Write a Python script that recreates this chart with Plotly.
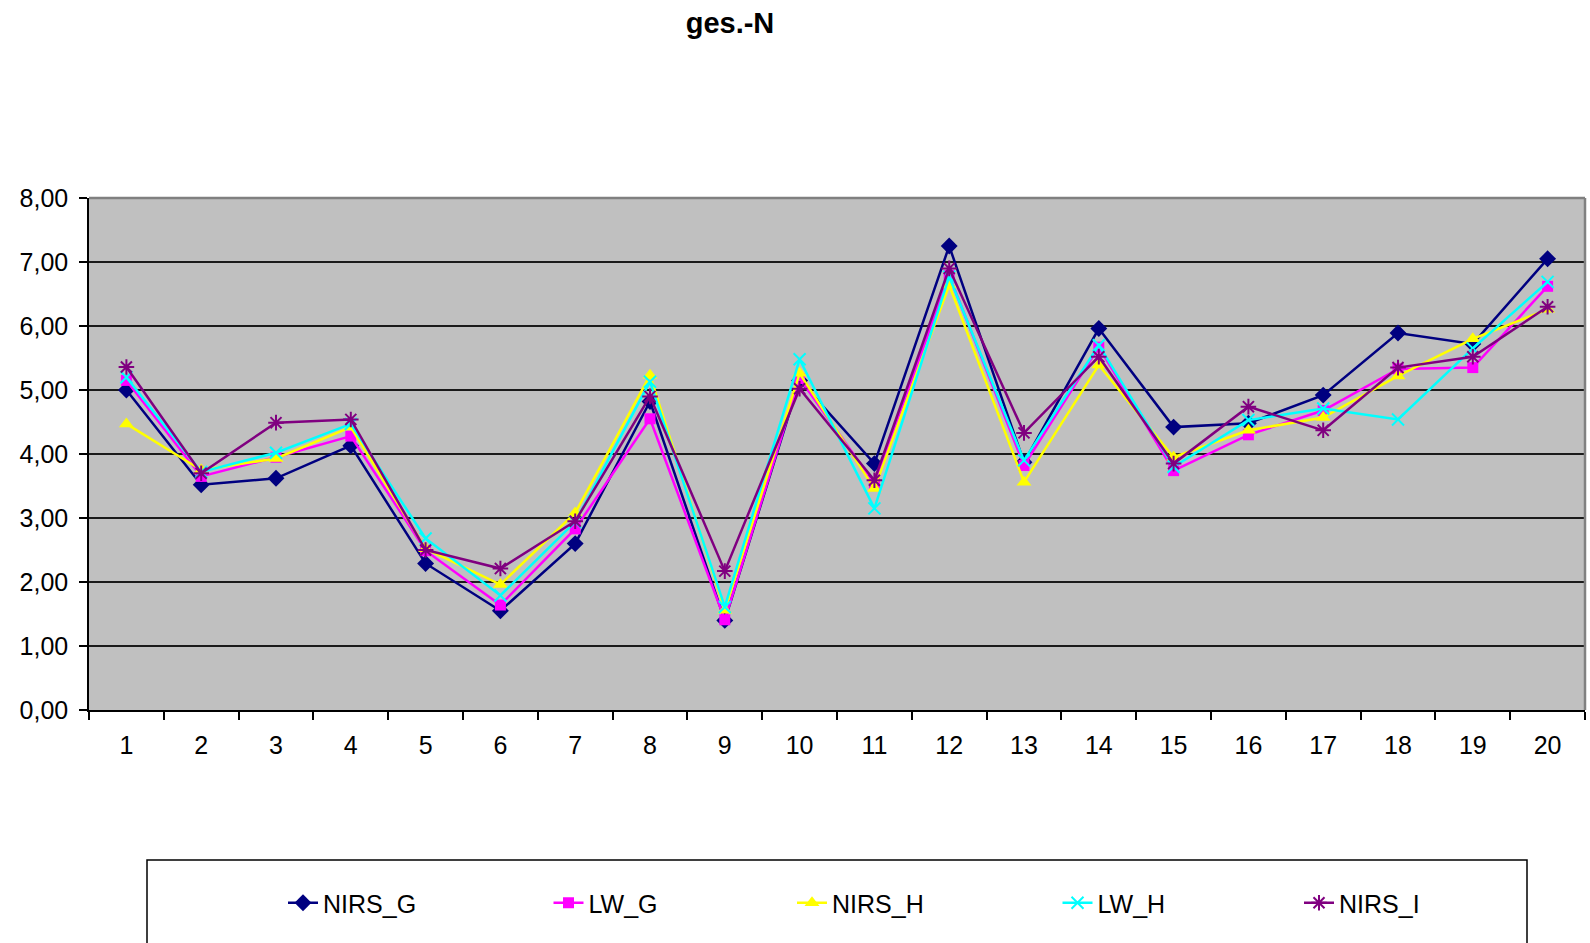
import plotly.graph_objects as go

categories = [str(i) for i in range(1, 21)]
NIRS_G = [5.00, 3.52, 3.62, 4.13, 2.29, 1.55, 2.60, 4.82, 1.40, 5.15, 3.85, 7.25, 3.87, 5.96, 4.42, 4.48, 4.92, 5.89, 5.72, 7.05]
LW_G = [5.15, 3.65, 3.95, 4.28, 2.49, 1.64, 2.83, 4.55, 1.41, 5.18, 3.54, 6.79, 3.82, 5.67, 3.74, 4.30, 4.68, 5.33, 5.35, 6.62]
NIRS_H = [4.47, 3.75, 3.93, 4.42, 2.52, 1.96, 3.08, 5.23, 1.56, 5.26, 3.46, 6.64, 3.56, 5.39, 3.95, 4.37, 4.57, 5.22, 5.80, 6.26]
LW_H = [5.20, 3.72, 4.02, 4.47, 2.68, 1.79, 2.94, 5.13, 1.61, 5.48, 3.15, 6.77, 3.90, 5.70, 3.80, 4.53, 4.71, 4.54, 5.65, 6.69]
NIRS_I = [5.36, 3.70, 4.49, 4.54, 2.50, 2.21, 2.95, 4.90, 2.17, 5.02, 3.59, 6.90, 4.33, 5.52, 3.85, 4.74, 4.37, 5.35, 5.52, 6.30]

series = [
    ("NIRS_G", NIRS_G, "#000080", "diamond", 13, 0),
    ("LW_G", LW_G, "#FF00FF", "square", 11, 0),
    ("NIRS_H", NIRS_H, "#FFFF00", "triangle-up", 13, 0),
    ("LW_H", LW_H, "#00FFFF", "x-thin-open", 12, 2),
    ("NIRS_I", NIRS_I, "#800080", "asterisk-open", 13, 2),
]

legend_names = ["legend", "legend2", "legend3", "legend4", "legend5"]
legend_x = [283, 548.5, 792, 1057.5, 1299]

fig = go.Figure()
for (name, vals, col, sym, size, lw), lg in zip(series, legend_names):
    fig.add_trace(go.Scatter(
        x=categories, y=vals, name=name, mode="lines+markers",
        line=dict(color=col, width=2.5),
        marker=dict(symbol=sym, size=size, color=col,
                    line=dict(color=col, width=lw)),
        legend=lg,
    ))

W, H = 1590, 943
L, R, T, B = 89, 1585, 198, 710

legend_layout = {}
for lg, lx in zip(legend_names, legend_x):
    legend_layout[lg] = dict(orientation="h", xref="container", yref="container",
                             x=lx / W, xanchor="left", y=1 - 903 / H, yanchor="middle",
                             font=dict(size=25, color="black"),
                             bgcolor="rgba(0,0,0,0)", borderwidth=0)

fig.update_layout(
    width=W, height=H,
    margin=dict(l=L, r=W - R, t=T, b=H - B),
    paper_bgcolor="white",
    plot_bgcolor="#C0C0C0",
    separators=", ",
    font=dict(family="Arial, Liberation Sans, sans-serif", size=25, color="black"),
    title=dict(text="<b>ges.-N</b>", font=dict(size=29, color="black"),
               xref="container", x=730 / W, xanchor="center",
               yref="container", y=1 - 23 / H, yanchor="middle"),
    showlegend=True,
    xaxis=dict(type="category", tickson="boundaries", ticks="outside",
               range=[-0.5, 19.5], autorange=False,
               ticklen=8, tickcolor="black", tickwidth=1.5,
               showline=True, linecolor="black", linewidth=1.5,
               showgrid=False, tickfont=dict(size=25), ticklabelstandoff=12),
    yaxis=dict(range=[0, 8], dtick=1, tickformat=".2f", ticks="outside",
               ticklen=8, tickcolor="black", tickwidth=1.5,
               showline=True, linecolor="black", linewidth=1.5,
               showgrid=True, gridcolor="#1a1a1a", gridwidth=1.5,
               zeroline=False, tickfont=dict(size=25), ticklabelstandoff=6),
    shapes=[
        dict(type="line", xref="paper", yref="paper", x0=0, x1=1, y0=1, y1=1,
             line=dict(color="#808080", width=2.5)),
        dict(type="line", xref="paper", yref="paper", x0=1, x1=1, y0=0, y1=1,
             line=dict(color="#808080", width=2.5)),
        dict(type="rect", xref="paper", yref="paper",
             x0=(147 - L) / (R - L), x1=(1527 - L) / (R - L),
             y0=(B - 960) / (B - T), y1=(B - 860) / (B - T),
             line=dict(color="black", width=1.5), fillcolor="rgba(0,0,0,0)"),
    ],
    **legend_layout,
)

fig.write_html("out.html")
